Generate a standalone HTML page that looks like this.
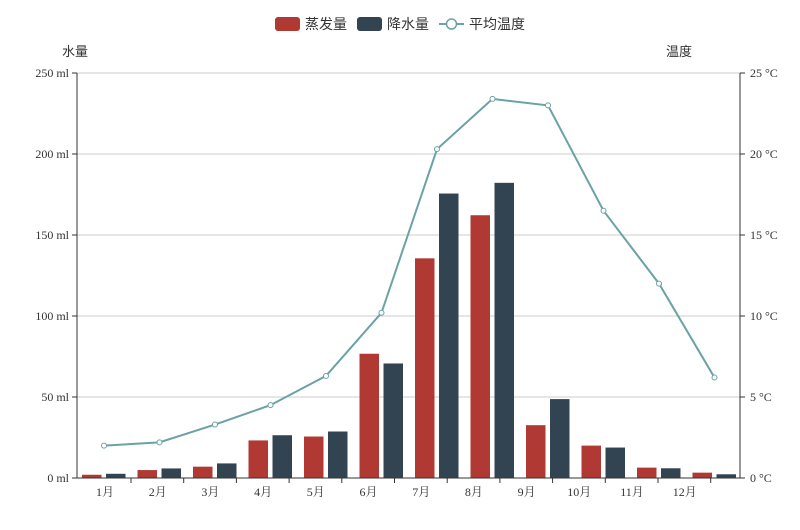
<!DOCTYPE html>
<html><head><meta charset="utf-8"><style>
body{margin:0;background:#fff;}
svg text{font-family:"Liberation Serif","Noto Serif CJK SC",serif;}
.cj{font-family:"Liberation Sans","Noto Sans CJK SC",sans-serif;}
</style></head><body>
<svg id="c" width="800" height="525">
<g id="legend">
 <g><rect x="275" y="17" width="25" height="14" rx="3" fill="#b03a33"/><text class="cj" x="305" y="29" font-size="14" fill="#333">蒸发量</text></g>
 <g><rect x="357" y="17" width="25" height="14" rx="3" fill="#324451"/><text class="cj" x="387" y="29" font-size="14" fill="#333">降水量</text></g>
 <g><line x1="439" y1="24" x2="464" y2="24" stroke="#6aa2a6" stroke-width="2"/><circle cx="451.5" cy="24" r="5" fill="#fff" stroke="#6aa2a6" stroke-width="1.5"/><text class="cj" x="469" y="29" font-size="14" fill="#333">平均温度</text></g>
</g>
<text class="cj" x="62" y="56" font-size="13" fill="#333">水量</text>
<text class="cj" x="666" y="56" font-size="13" fill="#333">温度</text>
<g id="grid"></g><g id="bars"></g><g id="line"></g><g id="axes"></g>
</svg>
<script>
const months=['1月','2月','3月','4月','5月','6月','7月','8月','9月','10月','11月','12月'];
const evaporation=[2.0,4.9,7.0,23.2,25.6,76.7,135.6,162.2,32.6,20.0,6.4,3.3];
const precipitation=[2.6,5.9,9.0,26.4,28.7,70.7,175.6,182.2,48.7,18.8,6.0,2.3];
const temperature=[2.0,2.2,3.3,4.5,6.3,10.2,20.3,23.4,23.0,16.5,12.0,6.2];
const leftTicks=[0,50,100,150,200,250];
const rightTicks=[0,5,10,15,20,25];
const NS='http://www.w3.org/2000/svg';
const yTop=73,yBot=478,L=77,R=740;
const yL=v=>yBot-v/250*(yBot-yTop);
const yR=v=>yBot-v/25*(yBot-yTop);
const xC=i=>104+i*55.5;
function mk(t,a,p){const e=document.createElementNS(NS,t);for(const k in a)e.setAttribute(k,a[k]);p.appendChild(e);return e;}
const grid=document.getElementById('grid'),axes=document.getElementById('axes');
leftTicks.forEach(v=>{
 const y=yL(v);
 if(v>0){const g=mk('line',{x1:L,x2:R,y1:y,y2:y,stroke:'#ccc','stroke-width':1},grid);
 
 }
 mk('line',{x1:L-5,x2:L,y1:y,y2:y,stroke:'#333'},axes);
 const t=mk('text',{x:L-8,y:y+4,'font-size':12,'text-anchor':'end',fill:'#333'},axes);t.textContent=v+' ml';
 
 
});
rightTicks.forEach(v=>{
 const y=yR(v);
 mk('line',{x1:R,x2:R+5,y1:y,y2:y,stroke:'#333'},axes);
 const t=mk('text',{x:R+10,y:y+4,'font-size':12,fill:'#333'},axes);t.textContent=v+' °C';
 
 
});
mk('line',{x1:L,x2:L,y1:yTop,y2:yBot,stroke:'#333'},axes);
mk('line',{x1:R,x2:R,y1:yTop,y2:yBot,stroke:'#333'},axes);
mk('line',{x1:L,x2:R,y1:yBot,y2:yBot,stroke:'#333'},axes);
months.forEach((m,i)=>{
 const tx=131+i*52.7;
 mk('line',{x1:tx,x2:tx,y1:yBot,y2:yBot+5,stroke:'#333'},axes);
 const t=mk('text',{x:tx-26,y:yBot+18,'font-size':12,'text-anchor':'middle',fill:'#333'},axes);t.textContent=m;
 
 
});
const bars=document.getElementById('bars');
evaporation.forEach((v,i)=>{
 const r=mk('rect',{x:xC(i)-22,y:yL(v),width:19.5,height:yBot-yL(v),fill:'#b03a33'},bars);
 
 
});
precipitation.forEach((v,i)=>{
 const r=mk('rect',{x:xC(i)+2,y:yL(v),width:19.5,height:yBot-yL(v),fill:'#324451'},bars);
 
 
});
const lg=document.getElementById('line');
const pl=mk('polyline',{points:temperature.map((v,i)=>xC(i)+','+yR(v)).join(' '),fill:'none',stroke:'#6aa2a6','stroke-width':2},lg);


temperature.forEach((v,i)=>{
 const c=mk('circle',{cx:xC(i),cy:yR(v),r:2.5,fill:'#fff',stroke:'#6aa2a6','stroke-width':1},lg);
 
 
});
</script>
</body></html>
